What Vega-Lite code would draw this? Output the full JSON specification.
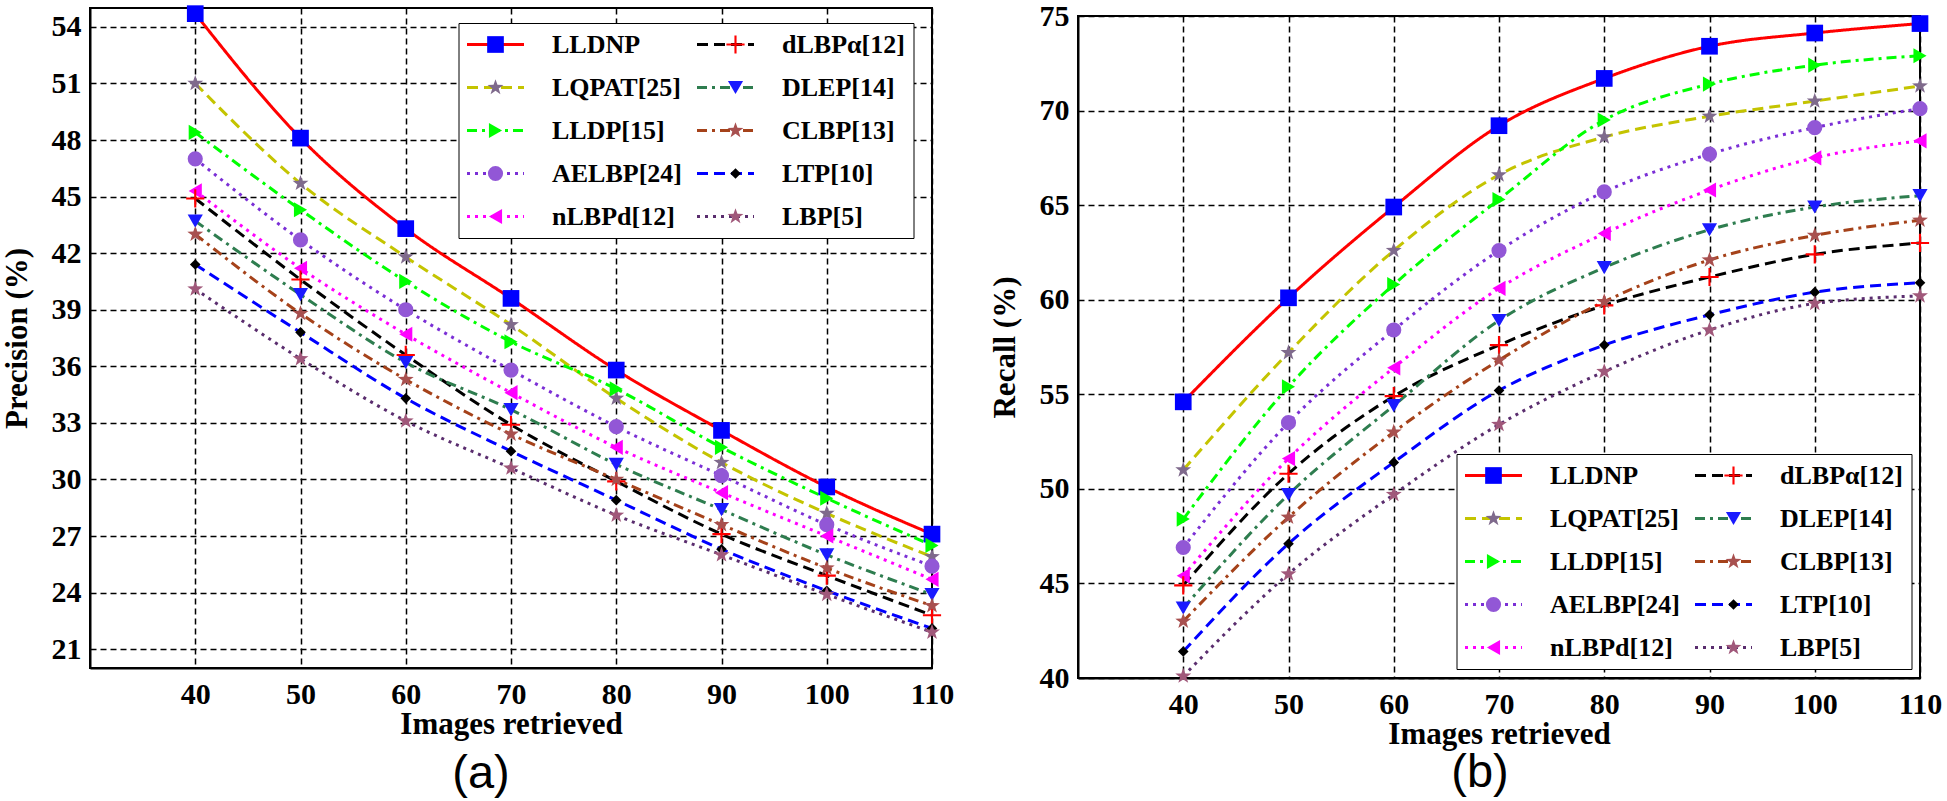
{
"$schema": "https://vega.github.io/schema/vega-lite/v6.json",
"background": "white",
"padding": {"left": 0, "top": 0, "right": 10, "bottom": 0},
"datasets": {
"precision": [
{"method":"LLDNP","images":40,"value":54.7},{"method":"LLDNP","images":50,"value":48.1},{"method":"LLDNP","images":60,"value":43.3},{"method":"LLDNP","images":70,"value":39.6},{"method":"LLDNP","images":80,"value":35.8},{"method":"LLDNP","images":90,"value":32.6},{"method":"LLDNP","images":100,"value":29.6},{"method":"LLDNP","images":110,"value":27.1},
{"method":"LQPAT[25]","images":40,"value":51.0},{"method":"LQPAT[25]","images":50,"value":45.7},{"method":"LQPAT[25]","images":60,"value":41.8},{"method":"LQPAT[25]","images":70,"value":38.2},{"method":"LQPAT[25]","images":80,"value":34.3},{"method":"LQPAT[25]","images":90,"value":30.9},{"method":"LQPAT[25]","images":100,"value":28.2},{"method":"LQPAT[25]","images":110,"value":25.9},
{"method":"LLDP[15]","images":40,"value":48.4},{"method":"LLDP[15]","images":50,"value":44.3},{"method":"LLDP[15]","images":60,"value":40.5},{"method":"LLDP[15]","images":70,"value":37.3},{"method":"LLDP[15]","images":80,"value":34.8},{"method":"LLDP[15]","images":90,"value":31.7},{"method":"LLDP[15]","images":100,"value":29.0},{"method":"LLDP[15]","images":110,"value":26.5},
{"method":"AELBP[24]","images":40,"value":47.0},{"method":"AELBP[24]","images":50,"value":42.7},{"method":"AELBP[24]","images":60,"value":39.0},{"method":"AELBP[24]","images":70,"value":35.8},{"method":"AELBP[24]","images":80,"value":32.8},{"method":"AELBP[24]","images":90,"value":30.2},{"method":"AELBP[24]","images":100,"value":27.6},{"method":"AELBP[24]","images":110,"value":25.4},
{"method":"nLBPd[12]","images":40,"value":45.3},{"method":"nLBPd[12]","images":50,"value":41.2},{"method":"nLBPd[12]","images":60,"value":37.7},{"method":"nLBPd[12]","images":70,"value":34.6},{"method":"nLBPd[12]","images":80,"value":31.7},{"method":"nLBPd[12]","images":90,"value":29.3},{"method":"nLBPd[12]","images":100,"value":27.0},{"method":"nLBPd[12]","images":110,"value":24.7},
{"method":"dLBPα[12]","images":40,"value":44.9},{"method":"dLBPα[12]","images":50,"value":40.6},{"method":"dLBPα[12]","images":60,"value":36.6},{"method":"dLBPα[12]","images":70,"value":32.9},{"method":"dLBPα[12]","images":80,"value":29.9},{"method":"dLBPα[12]","images":90,"value":27.1},{"method":"dLBPα[12]","images":100,"value":24.9},{"method":"dLBPα[12]","images":110,"value":22.8},
{"method":"DLEP[14]","images":40,"value":43.7},{"method":"DLEP[14]","images":50,"value":39.8},{"method":"DLEP[14]","images":60,"value":36.2},{"method":"DLEP[14]","images":70,"value":33.7},{"method":"DLEP[14]","images":80,"value":30.8},{"method":"DLEP[14]","images":90,"value":28.4},{"method":"DLEP[14]","images":100,"value":26.0},{"method":"DLEP[14]","images":110,"value":23.9},
{"method":"CLBP[13]","images":40,"value":43.0},{"method":"CLBP[13]","images":50,"value":38.8},{"method":"CLBP[13]","images":60,"value":35.3},{"method":"CLBP[13]","images":70,"value":32.4},{"method":"CLBP[13]","images":80,"value":30.0},{"method":"CLBP[13]","images":90,"value":27.6},{"method":"CLBP[13]","images":100,"value":25.3},{"method":"CLBP[13]","images":110,"value":23.3},
{"method":"LTP[10]","images":40,"value":41.4},{"method":"LTP[10]","images":50,"value":37.8},{"method":"LTP[10]","images":60,"value":34.3},{"method":"LTP[10]","images":70,"value":31.5},{"method":"LTP[10]","images":80,"value":28.9},{"method":"LTP[10]","images":90,"value":26.3},{"method":"LTP[10]","images":100,"value":24.1},{"method":"LTP[10]","images":110,"value":22.1},
{"method":"LBP[5]","images":40,"value":40.1},{"method":"LBP[5]","images":50,"value":36.4},{"method":"LBP[5]","images":60,"value":33.1},{"method":"LBP[5]","images":70,"value":30.6},{"method":"LBP[5]","images":80,"value":28.1},{"method":"LBP[5]","images":90,"value":26.0},{"method":"LBP[5]","images":100,"value":23.9},{"method":"LBP[5]","images":110,"value":21.9}
],
"recall": [
{"method":"LLDNP","images":40,"value":54.6},{"method":"LLDNP","images":50,"value":60.1},{"method":"LLDNP","images":60,"value":64.9},{"method":"LLDNP","images":70,"value":69.2},{"method":"LLDNP","images":80,"value":71.7},{"method":"LLDNP","images":90,"value":73.4},{"method":"LLDNP","images":100,"value":74.1},{"method":"LLDNP","images":110,"value":74.6},
{"method":"LQPAT[25]","images":40,"value":51.0},{"method":"LQPAT[25]","images":50,"value":57.2},{"method":"LQPAT[25]","images":60,"value":62.6},{"method":"LQPAT[25]","images":70,"value":66.6},{"method":"LQPAT[25]","images":80,"value":68.6},{"method":"LQPAT[25]","images":90,"value":69.7},{"method":"LQPAT[25]","images":100,"value":70.5},{"method":"LQPAT[25]","images":110,"value":71.3},
{"method":"LLDP[15]","images":40,"value":48.4},{"method":"LLDP[15]","images":50,"value":55.4},{"method":"LLDP[15]","images":60,"value":60.8},{"method":"LLDP[15]","images":70,"value":65.3},{"method":"LLDP[15]","images":80,"value":69.5},{"method":"LLDP[15]","images":90,"value":71.4},{"method":"LLDP[15]","images":100,"value":72.4},{"method":"LLDP[15]","images":110,"value":72.9},
{"method":"AELBP[24]","images":40,"value":46.9},{"method":"AELBP[24]","images":50,"value":53.5},{"method":"AELBP[24]","images":60,"value":58.4},{"method":"AELBP[24]","images":70,"value":62.6},{"method":"AELBP[24]","images":80,"value":65.7},{"method":"AELBP[24]","images":90,"value":67.7},{"method":"AELBP[24]","images":100,"value":69.1},{"method":"AELBP[24]","images":110,"value":70.1},
{"method":"nLBPd[12]","images":40,"value":45.4},{"method":"nLBPd[12]","images":50,"value":51.6},{"method":"nLBPd[12]","images":60,"value":56.4},{"method":"nLBPd[12]","images":70,"value":60.6},{"method":"nLBPd[12]","images":80,"value":63.5},{"method":"nLBPd[12]","images":90,"value":65.8},{"method":"nLBPd[12]","images":100,"value":67.5},{"method":"nLBPd[12]","images":110,"value":68.4},
{"method":"dLBPα[12]","images":40,"value":44.9},{"method":"dLBPα[12]","images":50,"value":50.8},{"method":"dLBPα[12]","images":60,"value":54.9},{"method":"dLBPα[12]","images":70,"value":57.6},{"method":"dLBPα[12]","images":80,"value":59.7},{"method":"dLBPα[12]","images":90,"value":61.2},{"method":"dLBPα[12]","images":100,"value":62.4},{"method":"dLBPα[12]","images":110,"value":63.0},
{"method":"DLEP[14]","images":40,"value":43.7},{"method":"DLEP[14]","images":50,"value":49.7},{"method":"DLEP[14]","images":60,"value":54.4},{"method":"DLEP[14]","images":70,"value":58.9},{"method":"DLEP[14]","images":80,"value":61.7},{"method":"DLEP[14]","images":90,"value":63.7},{"method":"DLEP[14]","images":100,"value":64.9},{"method":"DLEP[14]","images":110,"value":65.5},
{"method":"CLBP[13]","images":40,"value":43.0},{"method":"CLBP[13]","images":50,"value":48.5},{"method":"CLBP[13]","images":60,"value":53.0},{"method":"CLBP[13]","images":70,"value":56.8},{"method":"CLBP[13]","images":80,"value":59.9},{"method":"CLBP[13]","images":90,"value":62.1},{"method":"CLBP[13]","images":100,"value":63.4},{"method":"CLBP[13]","images":110,"value":64.2},
{"method":"LTP[10]","images":40,"value":41.4},{"method":"LTP[10]","images":50,"value":47.1},{"method":"LTP[10]","images":60,"value":51.4},{"method":"LTP[10]","images":70,"value":55.2},{"method":"LTP[10]","images":80,"value":57.6},{"method":"LTP[10]","images":90,"value":59.2},{"method":"LTP[10]","images":100,"value":60.4},{"method":"LTP[10]","images":110,"value":60.9},
{"method":"LBP[5]","images":40,"value":40.1},{"method":"LBP[5]","images":50,"value":45.5},{"method":"LBP[5]","images":60,"value":49.7},{"method":"LBP[5]","images":70,"value":53.4},{"method":"LBP[5]","images":80,"value":56.2},{"method":"LBP[5]","images":90,"value":58.4},{"method":"LBP[5]","images":100,"value":59.8},{"method":"LBP[5]","images":110,"value":60.2}
]
},
"hconcat": [
{
"width": 842, "height": 660,
"data": {"name": "precision"},
"title": {"text": "(a)", "orient": "bottom", "anchor": "middle", "frame": "group", "dx": -30, "offset": 12, "font": "Liberation Sans", "fontSize": 47, "fontWeight": "normal", "color": "black"},
"encoding": {
"x": {"field": "images", "type": "quantitative", "scale": {"domain": [30, 110], "nice": false, "zero": false}, "axis": {"values": [40,50,60,70,80,90,100,110], "title": "Images retrieved"}},
"y": {"field": "value", "type": "quantitative", "scale": {"domain": [20, 55], "nice": false, "zero": false}, "axis": {"values": [21,24,27,30,33,36,39,42,45,48,51,54], "title": "Precision (%)"}}
},
"layer": [
{"mark": {"type": "line", "strokeWidth": 3, "interpolate": "monotone"},
"encoding": {
"color": {"field": "method", "type": "nominal",
"scale": {"domain": ["LLDNP","LQPAT[25]","LLDP[15]","AELBP[24]","nLBPd[12]","dLBPα[12]","DLEP[14]","CLBP[13]","LTP[10]","LBP[5]"],
"range": ["#ff0000","#c4c400","#00ff00","#7b2fd6","#ff00ff","#000000","#2e7d4f","#a5421a","#0000ff","#5a2d6e"]},
"legend": {"title": null, "orient": "none", "legendX": 368.5, "legendY": 15, "columns": 2, "symbolType": "M-2.6,0H8.8", "symbolSize": 100, "symbolStrokeWidth": 3, "labelOffset": 59, "padding": 8.5, "rowPadding": 17, "columnPadding": 9, "strokeColor": "black", "fillColor": "white"}},
"strokeDash": {"field": "method", "type": "nominal",
"scale": {"domain": ["LLDNP","LQPAT[25]","LLDP[15]","AELBP[24]","nLBPd[12]","dLBPα[12]","DLEP[14]","CLBP[13]","LTP[10]","LBP[5]"],
"range": [[1,0],[11,6],[10,5,3,5],[3,5],[3,5],[11,6],[10,5,3,5],[10,5,3,5],[11,6],[3,5]]},
"legend": {"title": null, "orient": "none", "legendX": 368.5, "legendY": 15, "columns": 2, "symbolType": "M-2.6,0H8.8", "symbolSize": 100, "symbolStrokeWidth": 3, "labelOffset": 59, "padding": 8.5, "rowPadding": 17, "columnPadding": 9, "strokeColor": "black", "fillColor": "white"}}
}},
{"mark": {"type": "point", "filled": true, "size": 230, "opacity": 1, "strokeWidth": 0},
"encoding": {
"fill": {"field": "method", "type": "nominal",
"scale": {"domain": ["LLDNP","LQPAT[25]","LLDP[15]","AELBP[24]","nLBPd[12]","dLBPα[12]","DLEP[14]","CLBP[13]","LTP[10]","LBP[5]"],
"range": ["#0000ff","#7f6a8c","#00ff00","#9257d6","#ff00ff","#ff0000","#1a1aff","#a8504f","#000000","#a0587a"]},
"legend": {"title": null, "orient": "none", "legendX": 368.5, "legendY": 15, "columns": 2, "symbolSize": 230, "symbolStrokeWidth": 0, "symbolOffset": 15.5, "labelOffset": 59, "labelOpacity": 0, "padding": 8.5, "rowPadding": 17, "columnPadding": 9}},
"shape": {"field": "method", "type": "nominal",
"scale": {"domain": ["LLDNP","LQPAT[25]","LLDP[15]","AELBP[24]","nLBPd[12]","dLBPα[12]","DLEP[14]","CLBP[13]","LTP[10]","LBP[5]"],
"range": ["M-1.1,-1.1H1.1V1.1H-1.1Z","M0,-1.1L0.26,-0.36L1.05,-0.34L0.42,0.14L0.65,0.89L0,0.44L-0.65,0.89L-0.42,0.14L-1.05,-0.34L-0.26,-0.36Z","triangle-right","circle","triangle-left","M-1.2,-0.14H1.2V0.14H-1.2ZM-0.14,-1.2H0.14V1.2H-0.14Z","triangle-down","M0,-1.1L0.26,-0.36L1.05,-0.34L0.42,0.14L0.65,0.89L0,0.44L-0.65,0.89L-0.42,0.14L-1.05,-0.34L-0.26,-0.36Z","M0,-0.7L0.7,0L0,0.7L-0.7,0Z","M0,-1.1L0.26,-0.36L1.05,-0.34L0.42,0.14L0.65,0.89L0,0.44L-0.65,0.89L-0.42,0.14L-1.05,-0.34L-0.26,-0.36Z"]},
"legend": {"title": null, "orient": "none", "legendX": 368.5, "legendY": 15, "columns": 2, "symbolSize": 230, "symbolStrokeWidth": 0, "symbolOffset": 15.5, "labelOffset": 59, "labelOpacity": 0, "padding": 8.5, "rowPadding": 17, "columnPadding": 9}}
}}
],
"resolve": {"scale": {"color": "independent", "strokeDash": "independent", "fill": "independent", "shape": "independent"}, "legend": {"color": "independent", "strokeDash": "independent", "fill": "independent", "shape": "independent"}}
},
{
"vconcat": [
{"width": 842, "height": 8, "data": {"values": []}, "mark": {"type": "point"}, "view": {"stroke": null}},
{
"width": 842, "height": 662,
"data": {"name": "recall"},
"title": {"text": "(b)", "orient": "bottom", "anchor": "middle", "frame": "group", "dx": -19, "offset": 1, "font": "Liberation Sans", "fontSize": 47, "fontWeight": "normal", "color": "black"},
"encoding": {
"x": {"field": "images", "type": "quantitative", "scale": {"domain": [30, 110], "nice": false, "zero": false}, "axis": {"values": [40,50,60,70,80,90,100,110], "title": "Images retrieved"}},
"y": {"field": "value", "type": "quantitative", "scale": {"domain": [40, 75], "nice": false, "zero": false}, "axis": {"values": [40,45,50,55,60,65,70,75], "title": "Recall (%)"}}
},
"layer": [
{"mark": {"type": "line", "strokeWidth": 3, "interpolate": "monotone"},
"encoding": {
"color": {"field": "method", "type": "nominal",
"scale": {"domain": ["LLDNP","LQPAT[25]","LLDP[15]","AELBP[24]","nLBPd[12]","dLBPα[12]","DLEP[14]","CLBP[13]","LTP[10]","LBP[5]"],
"range": ["#ff0000","#c4c400","#00ff00","#7b2fd6","#ff00ff","#000000","#2e7d4f","#a5421a","#0000ff","#5a2d6e"]},
"legend": {"title": null, "orient": "none", "legendX": 378.5, "legendY": 438, "columns": 2, "symbolType": "M-2.6,0H8.8", "symbolSize": 100, "symbolStrokeWidth": 3, "labelOffset": 59, "padding": 8.5, "rowPadding": 17, "columnPadding": 9, "strokeColor": "black", "fillColor": "white"}},
"strokeDash": {"field": "method", "type": "nominal",
"scale": {"domain": ["LLDNP","LQPAT[25]","LLDP[15]","AELBP[24]","nLBPd[12]","dLBPα[12]","DLEP[14]","CLBP[13]","LTP[10]","LBP[5]"],
"range": [[1,0],[11,6],[10,5,3,5],[3,5],[3,5],[11,6],[10,5,3,5],[10,5,3,5],[11,6],[3,5]]},
"legend": {"title": null, "orient": "none", "legendX": 378.5, "legendY": 438, "columns": 2, "symbolType": "M-2.6,0H8.8", "symbolSize": 100, "symbolStrokeWidth": 3, "labelOffset": 59, "padding": 8.5, "rowPadding": 17, "columnPadding": 9, "strokeColor": "black", "fillColor": "white"}}
}},
{"mark": {"type": "point", "filled": true, "size": 230, "opacity": 1, "strokeWidth": 0},
"encoding": {
"fill": {"field": "method", "type": "nominal",
"scale": {"domain": ["LLDNP","LQPAT[25]","LLDP[15]","AELBP[24]","nLBPd[12]","dLBPα[12]","DLEP[14]","CLBP[13]","LTP[10]","LBP[5]"],
"range": ["#0000ff","#7f6a8c","#00ff00","#9257d6","#ff00ff","#ff0000","#1a1aff","#a8504f","#000000","#a0587a"]},
"legend": {"title": null, "orient": "none", "legendX": 378.5, "legendY": 438, "columns": 2, "symbolSize": 230, "symbolStrokeWidth": 0, "symbolOffset": 15.5, "labelOffset": 59, "labelOpacity": 0, "padding": 8.5, "rowPadding": 17, "columnPadding": 9}},
"shape": {"field": "method", "type": "nominal",
"scale": {"domain": ["LLDNP","LQPAT[25]","LLDP[15]","AELBP[24]","nLBPd[12]","dLBPα[12]","DLEP[14]","CLBP[13]","LTP[10]","LBP[5]"],
"range": ["M-1.1,-1.1H1.1V1.1H-1.1Z","M0,-1.1L0.26,-0.36L1.05,-0.34L0.42,0.14L0.65,0.89L0,0.44L-0.65,0.89L-0.42,0.14L-1.05,-0.34L-0.26,-0.36Z","triangle-right","circle","triangle-left","M-1.2,-0.14H1.2V0.14H-1.2ZM-0.14,-1.2H0.14V1.2H-0.14Z","triangle-down","M0,-1.1L0.26,-0.36L1.05,-0.34L0.42,0.14L0.65,0.89L0,0.44L-0.65,0.89L-0.42,0.14L-1.05,-0.34L-0.26,-0.36Z","M0,-0.7L0.7,0L0,0.7L-0.7,0Z","M0,-1.1L0.26,-0.36L1.05,-0.34L0.42,0.14L0.65,0.89L0,0.44L-0.65,0.89L-0.42,0.14L-1.05,-0.34L-0.26,-0.36Z"]},
"legend": {"title": null, "orient": "none", "legendX": 378.5, "legendY": 438, "columns": 2, "symbolSize": 230, "symbolStrokeWidth": 0, "symbolOffset": 15.5, "labelOffset": 59, "labelOpacity": 0, "padding": 8.5, "rowPadding": 17, "columnPadding": 9}}
}}
],
"resolve": {"scale": {"color": "independent", "strokeDash": "independent", "fill": "independent", "shape": "independent"}, "legend": {"color": "independent", "strokeDash": "independent", "fill": "independent", "shape": "independent"}}
}
],
"spacing": 0,
"bounds": "flush",
"resolve": {"scale": {"color": "independent", "strokeDash": "independent", "fill": "independent", "shape": "independent"}, "legend": {"color": "independent", "strokeDash": "independent", "fill": "independent", "shape": "independent"}}
}
],
"spacing": 146,
"bounds": "flush",
"resolve": {"scale": {"color": "independent", "strokeDash": "independent", "fill": "independent", "shape": "independent"}, "legend": {"color": "independent", "strokeDash": "independent", "fill": "independent", "shape": "independent"}},
"config": {
"view": {"stroke": "black", "strokeWidth": 2},
"axis": {"labelFont": "Liberation Serif", "labelFontWeight": "bold", "labelFontSize": 30, "labelColor": "black", "labelFlush": false, "labelOverlap": false,
"titleFont": "Liberation Serif", "titleFontWeight": "bold", "titleFontSize": 31, "titleColor": "black",
"grid": true, "gridColor": "black", "gridDash": [6, 4], "gridWidth": 1.5, "gridOpacity": 1,
"domainColor": "black", "domainWidth": 2, "ticks": false},
"axisX": {"labelPadding": 11, "titlePadding": 0},
"axisY": {"labelPadding": 9, "titlePadding": 12, "minExtent": 45, "maxExtent": 45},
"legend": {"labelFont": "Liberation Serif", "labelFontWeight": "bold", "labelFontSize": 26, "labelColor": "black"}
}
}
